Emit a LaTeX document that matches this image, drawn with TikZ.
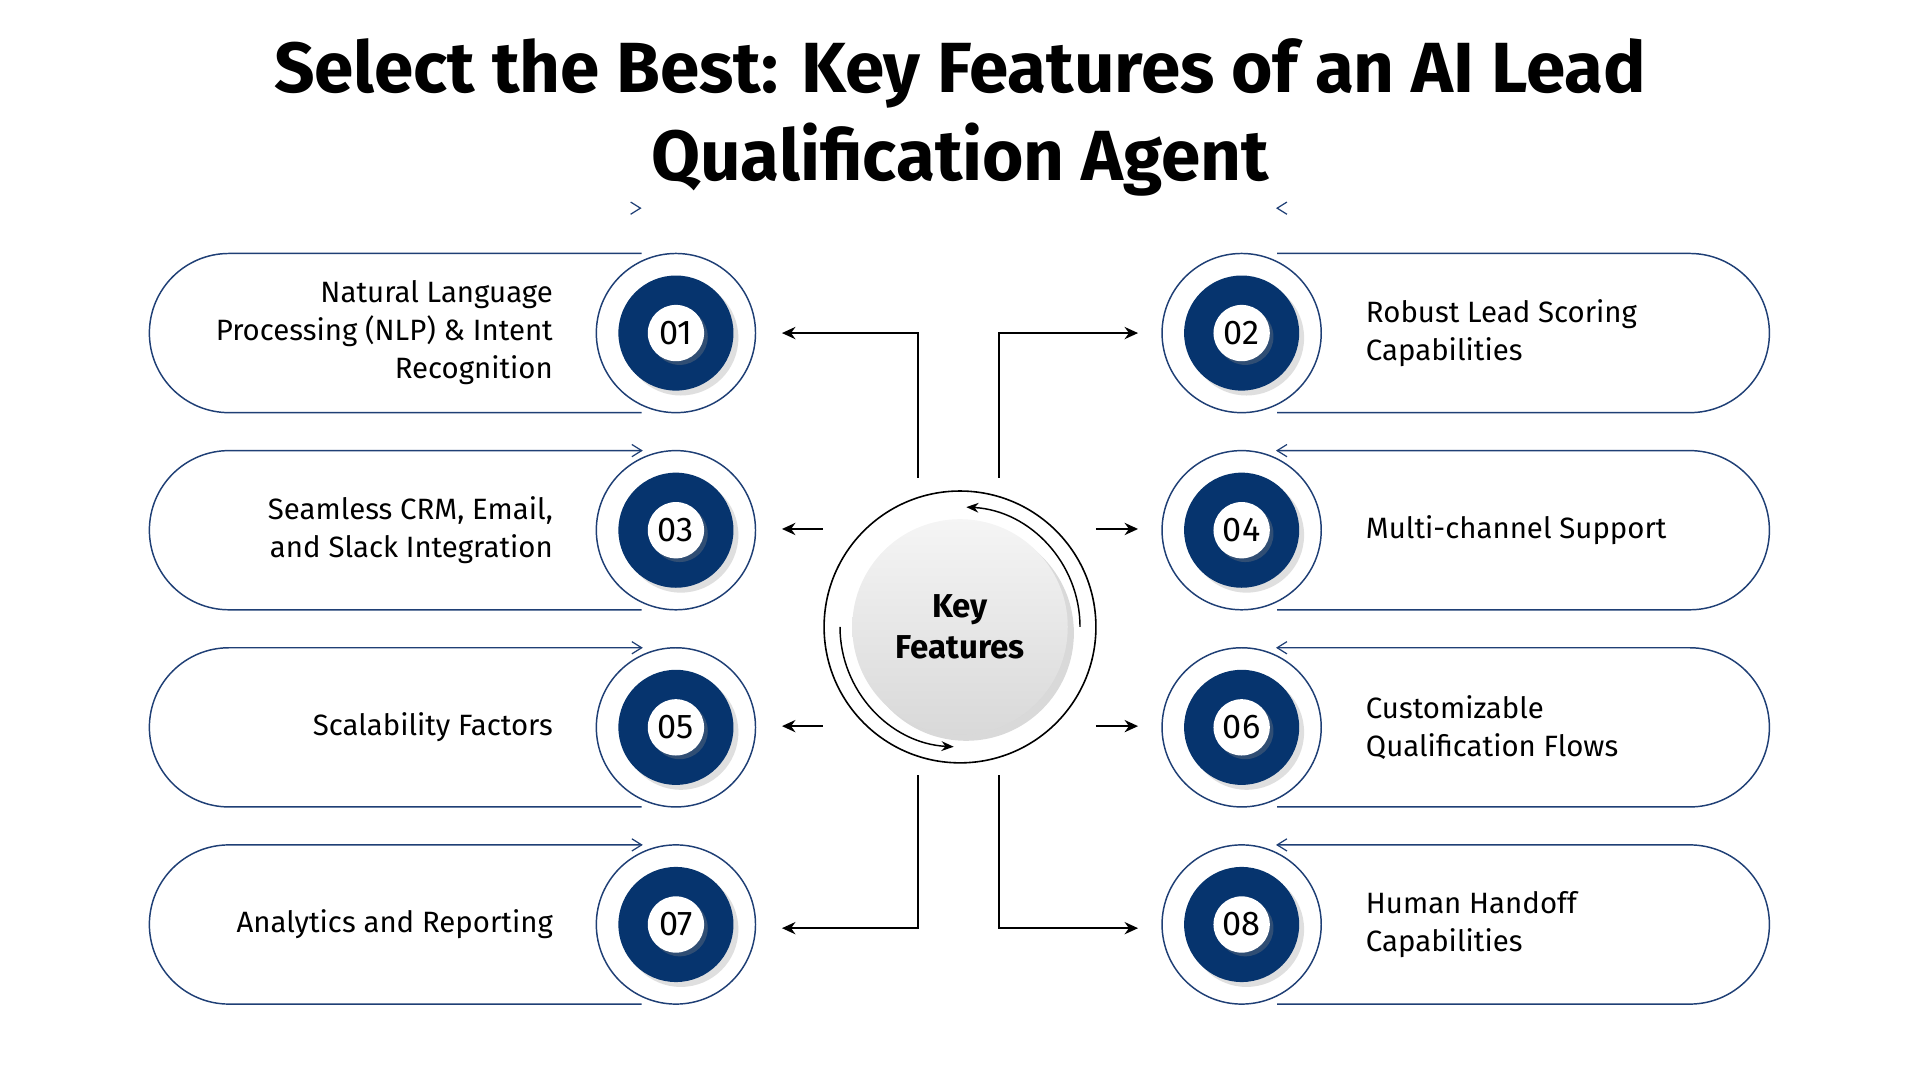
\documentclass[tikz,border=0pt]{standalone}
\usepackage{fontspec}
\setmainfont{Fira Sans}
\usetikzlibrary{arrows.meta,shadows}
\definecolor{navy}{HTML}{06346E}
\definecolor{pill}{HTML}{1F3F75}
\tikzset{
  pillline/.style={draw=pill,line width=1.2pt},
  numring/.style={circle,draw=pill,line width=1.2pt,minimum size=130pt,inner sep=0pt,fill=white},
  darkdisc/.style={circle,fill=navy,minimum size=94pt,inner sep=0pt,drop shadow={shadow xshift=4pt,shadow yshift=-4pt,opacity=0.25}},
  numdisc/.style={circle,fill=white,minimum size=46pt,inner sep=0pt,font=\fontsize{28}{30}\selectfont,drop shadow={shadow xshift=3pt,shadow yshift=-3pt,opacity=0.35}},
  ltext/.style={align=right,anchor=east,font=\fontsize{24}{31}\selectfont},
  rtext/.style={align=left,anchor=west,font=\fontsize{24}{31}\selectfont},
  conn/.style={draw,line width=1.5pt,-{Stealth[length=11pt,width=10pt]}},
  chev/.style={draw=pill,line width=1pt}
}
\begin{document}
\begin{tikzpicture}[x=1pt,y=-1pt]
\useasboundingbox (0,0) rectangle (1568,882);
\node[font=\fontsize{58}{72}\selectfont\bfseries,align=center] (title) at (784,96) {Select the Best: Key Features of an AI Lead\\Qualification Agent};
\draw[chev] (515,165) -- (523,170) -- (515,175);
\draw[chev] (1051,165) -- (1043,170) -- (1051,175);
% left pills
\foreach \y/\n/\t/\arr in {272/01/{Natural Language\\Processing (NLP) \& Intent\\Recognition}/0,433/03/{Seamless CRM, Email,\\and Slack Integration}/1,594/05/{Scalability Factors}/1,755/07/{Analytics and Reporting}/1}{
  \draw[pillline] (524,\y-65) -- (187,\y-65) arc[start angle=270,end angle=90,radius=65] -- (524,\y+65);
  \ifnum\arr=1 \draw[chev] (516,\y-70) -- (524,\y-65) -- (516,\y-60); \fi
  \node[numring] (ring\n) at (552,\y) {};
  \node[darkdisc] (dark\n) at (552,\y) {};
  \node[numdisc] (num\n) at (552,\y) {\n};
  \node[ltext] (txt\n) at (455,\y) {\t};
}
% right pills
\foreach \y/\n/\t/\arr in {272/02/{Robust Lead Scoring\\Capabilities}/0,433/04/{Multi-channel Support}/1,594/06/{Customizable\\Qualification Flows}/1,755/08/{Human Handoff\\Capabilities}/1}{
  \draw[pillline] (1043,\y-65) -- (1380,\y-65) arc[start angle=-90,end angle=90,radius=65] -- (1043,\y+65);
  \ifnum\arr=1 \draw[chev] (1051,\y-70) -- (1043,\y-65) -- (1051,\y-60); \fi
  \node[numring] (ring\n) at (1014,\y) {};
  \node[darkdisc] (dark\n) at (1014,\y) {};
  \node[numdisc] (num\n) at (1014,\y) {\n};
  \node[rtext] (txt\n) at (1112,\y) {\t};
}
% center
\node[circle,draw,line width=1.3pt,minimum size=222pt,inner sep=0pt] (outer) at (784,512) {};
\node[circle,minimum size=176pt,inner sep=0pt,top color=gray!8,bottom color=gray!30,drop shadow={shadow xshift=5pt,shadow yshift=-5pt,opacity=0.3}] (key) at (784,512) {};
\node[font=\fontsize{27}{34}\selectfont\bfseries,align=center] (keyt) at (784,512) {Key\\Features};
\draw[line width=1.2pt,-{Stealth[length=10pt,width=8pt]}] (686,512) arc[start angle=180,end angle=93,radius=98];
\draw[line width=1.2pt,-{Stealth[length=10pt,width=8pt]}] (882,512) arc[start angle=0,end angle=-87,radius=98];
% connectors
\coordinate (s1) at (750,390); \coordinate (s2) at (816,390);
\coordinate (s7) at (750,633); \coordinate (s8) at (816,633);
\coordinate (s3) at (672,432); \coordinate (s4) at (895,432);
\coordinate (s5) at (672,593); \coordinate (s6) at (895,593);
\draw[conn] (s1) |- ([xshift=21pt]ring01.east);
\draw[conn] (s2) |- ([xshift=-19pt]ring02.west);
\draw[conn] (s3) -- ([xshift=21pt]ring03.east |- s3);
\draw[conn] (s4) -- ([xshift=-19pt]ring04.west |- s4);
\draw[conn] (s5) -- ([xshift=21pt]ring05.east |- s5);
\draw[conn] (s6) -- ([xshift=-19pt]ring06.west |- s6);
\draw[conn] (s7) |- ([xshift=21pt,yshift=-3pt]ring07.east);
\draw[conn] (s8) |- ([xshift=-19pt,yshift=-3pt]ring08.west);
\end{tikzpicture}
\end{document}
